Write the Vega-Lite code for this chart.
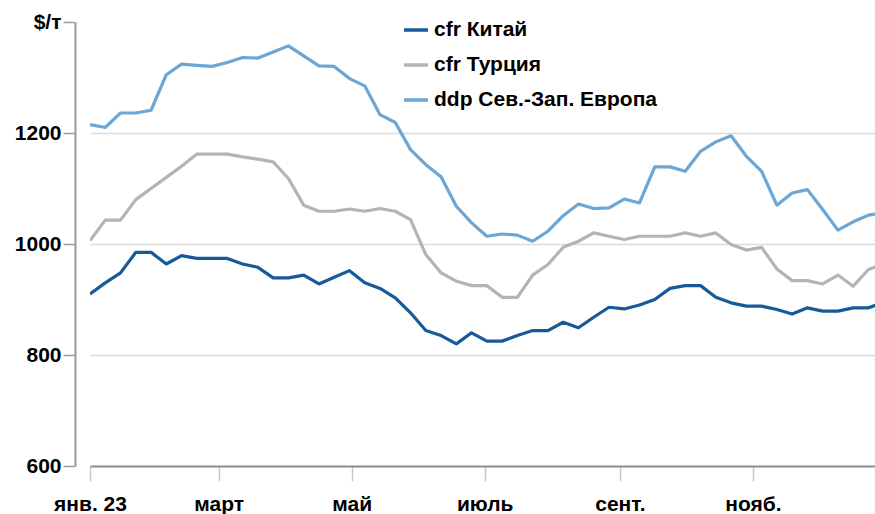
{
  "$schema": "https://vega.github.io/schema/vega-lite/v6.json",
  "width": 785,
  "height": 444,
  "autosize": {"type": "none"},
  "padding": {"left": 90, "top": 22, "right": 0, "bottom": 48},
  "background": "white",
  "config": {"font": "Liberation Sans", "view": {"stroke": null}},
  "data": {"values": [
    {"date":"2023-01-01","series":"cfr Китай","price":910},{"date":"2023-01-01","series":"cfr Турция","price":1006},{"date":"2023-01-01","series":"ddp Сев.-Зап. Европа","price":1215},
    {"date":"2023-01-08","series":"cfr Китай","price":930},{"date":"2023-01-08","series":"cfr Турция","price":1043},{"date":"2023-01-08","series":"ddp Сев.-Зап. Европа","price":1210},
    {"date":"2023-01-15","series":"cfr Китай","price":948},{"date":"2023-01-15","series":"cfr Турция","price":1043},{"date":"2023-01-15","series":"ddp Сев.-Зап. Европа","price":1236},
    {"date":"2023-01-22","series":"cfr Китай","price":985},{"date":"2023-01-22","series":"cfr Турция","price":1080},{"date":"2023-01-22","series":"ddp Сев.-Зап. Европа","price":1236},
    {"date":"2023-01-29","series":"cfr Китай","price":985},{"date":"2023-01-29","series":"cfr Турция","price":1100},{"date":"2023-01-29","series":"ddp Сев.-Зап. Европа","price":1241},
    {"date":"2023-02-05","series":"cfr Китай","price":964},{"date":"2023-02-05","series":"cfr Турция","price":1120},{"date":"2023-02-05","series":"ddp Сев.-Зап. Европа","price":1305},
    {"date":"2023-02-12","series":"cfr Китай","price":979},{"date":"2023-02-12","series":"cfr Турция","price":1140},{"date":"2023-02-12","series":"ddp Сев.-Зап. Европа","price":1324},
    {"date":"2023-02-19","series":"cfr Китай","price":974},{"date":"2023-02-19","series":"cfr Турция","price":1162},{"date":"2023-02-19","series":"ddp Сев.-Зап. Европа","price":1322},
    {"date":"2023-02-26","series":"cfr Китай","price":974},{"date":"2023-02-26","series":"cfr Турция","price":1162},{"date":"2023-02-26","series":"ddp Сев.-Зап. Европа","price":1320},
    {"date":"2023-03-05","series":"cfr Китай","price":974},{"date":"2023-03-05","series":"cfr Турция","price":1162},{"date":"2023-03-05","series":"ddp Сев.-Зап. Европа","price":1327},
    {"date":"2023-03-12","series":"cfr Китай","price":964},{"date":"2023-03-12","series":"cfr Турция","price":1157},{"date":"2023-03-12","series":"ddp Сев.-Зап. Европа","price":1336},
    {"date":"2023-03-19","series":"cfr Китай","price":958},{"date":"2023-03-19","series":"cfr Турция","price":1153},{"date":"2023-03-19","series":"ddp Сев.-Зап. Европа","price":1335},
    {"date":"2023-03-26","series":"cfr Китай","price":939},{"date":"2023-03-26","series":"cfr Турция","price":1148},{"date":"2023-03-26","series":"ddp Сев.-Зап. Европа","price":1346},
    {"date":"2023-04-02","series":"cfr Китай","price":939},{"date":"2023-04-02","series":"cfr Турция","price":1118},{"date":"2023-04-02","series":"ddp Сев.-Зап. Европа","price":1357},
    {"date":"2023-04-09","series":"cfr Китай","price":944},{"date":"2023-04-09","series":"cfr Турция","price":1070},{"date":"2023-04-09","series":"ddp Сев.-Зап. Европа","price":1339},
    {"date":"2023-04-16","series":"cfr Китай","price":928},{"date":"2023-04-16","series":"cfr Турция","price":1059},{"date":"2023-04-16","series":"ddp Сев.-Зап. Европа","price":1321},
    {"date":"2023-04-23","series":"cfr Китай","price":940},{"date":"2023-04-23","series":"cfr Турция","price":1059},{"date":"2023-04-23","series":"ddp Сев.-Зап. Европа","price":1320},
    {"date":"2023-04-30","series":"cfr Китай","price":952},{"date":"2023-04-30","series":"cfr Турция","price":1063},{"date":"2023-04-30","series":"ddp Сев.-Зап. Европа","price":1298},
    {"date":"2023-05-07","series":"cfr Китай","price":930},{"date":"2023-05-07","series":"cfr Турция","price":1059},{"date":"2023-05-07","series":"ddp Сев.-Зап. Европа","price":1285},
    {"date":"2023-05-14","series":"cfr Китай","price":920},{"date":"2023-05-14","series":"cfr Турция","price":1064},{"date":"2023-05-14","series":"ddp Сев.-Зап. Европа","price":1233},
    {"date":"2023-05-21","series":"cfr Китай","price":903},{"date":"2023-05-21","series":"cfr Турция","price":1059},{"date":"2023-05-21","series":"ddp Сев.-Зап. Европа","price":1219},
    {"date":"2023-05-28","series":"cfr Китай","price":876},{"date":"2023-05-28","series":"cfr Турция","price":1044},{"date":"2023-05-28","series":"ddp Сев.-Зап. Европа","price":1170},
    {"date":"2023-06-04","series":"cfr Китай","price":844},{"date":"2023-06-04","series":"cfr Турция","price":981},{"date":"2023-06-04","series":"ddp Сев.-Зап. Европа","price":1143},
    {"date":"2023-06-11","series":"cfr Китай","price":835},{"date":"2023-06-11","series":"cfr Турция","price":948},{"date":"2023-06-11","series":"ddp Сев.-Зап. Европа","price":1121},
    {"date":"2023-06-18","series":"cfr Китай","price":820},{"date":"2023-06-18","series":"cfr Турция","price":933},{"date":"2023-06-18","series":"ddp Сев.-Зап. Европа","price":1068},
    {"date":"2023-06-25","series":"cfr Китай","price":840},{"date":"2023-06-25","series":"cfr Турция","price":925},{"date":"2023-06-25","series":"ddp Сев.-Зап. Европа","price":1038},
    {"date":"2023-07-02","series":"cfr Китай","price":825},{"date":"2023-07-02","series":"cfr Турция","price":925},{"date":"2023-07-02","series":"ddp Сев.-Зап. Европа","price":1014},
    {"date":"2023-07-09","series":"cfr Китай","price":825},{"date":"2023-07-09","series":"cfr Турция","price":904},{"date":"2023-07-09","series":"ddp Сев.-Зап. Европа","price":1018},
    {"date":"2023-07-16","series":"cfr Китай","price":835},{"date":"2023-07-16","series":"cfr Турция","price":904},{"date":"2023-07-16","series":"ddp Сев.-Зап. Европа","price":1016},
    {"date":"2023-07-23","series":"cfr Китай","price":844},{"date":"2023-07-23","series":"cfr Турция","price":944},{"date":"2023-07-23","series":"ddp Сев.-Зап. Европа","price":1005},
    {"date":"2023-07-30","series":"cfr Китай","price":844},{"date":"2023-07-30","series":"cfr Турция","price":963},{"date":"2023-07-30","series":"ddp Сев.-Зап. Европа","price":1023},
    {"date":"2023-08-06","series":"cfr Китай","price":859},{"date":"2023-08-06","series":"cfr Турция","price":994},{"date":"2023-08-06","series":"ddp Сев.-Зап. Европа","price":1051},
    {"date":"2023-08-13","series":"cfr Китай","price":849},{"date":"2023-08-13","series":"cfr Турция","price":1005},{"date":"2023-08-13","series":"ddp Сев.-Зап. Европа","price":1072},
    {"date":"2023-08-20","series":"cfr Китай","price":868},{"date":"2023-08-20","series":"cfr Турция","price":1020},{"date":"2023-08-20","series":"ddp Сев.-Зап. Европа","price":1064},
    {"date":"2023-08-27","series":"cfr Китай","price":886},{"date":"2023-08-27","series":"cfr Турция","price":1014},{"date":"2023-08-27","series":"ddp Сев.-Зап. Европа","price":1065},
    {"date":"2023-09-03","series":"cfr Китай","price":883},{"date":"2023-09-03","series":"cfr Турция","price":1008},{"date":"2023-09-03","series":"ddp Сев.-Зап. Европа","price":1081},
    {"date":"2023-09-10","series":"cfr Китай","price":890},{"date":"2023-09-10","series":"cfr Турция","price":1014},{"date":"2023-09-10","series":"ddp Сев.-Зап. Европа","price":1074},
    {"date":"2023-09-17","series":"cfr Китай","price":900},{"date":"2023-09-17","series":"cfr Турция","price":1014},{"date":"2023-09-17","series":"ddp Сев.-Зап. Европа","price":1139},
    {"date":"2023-09-24","series":"cfr Китай","price":920},{"date":"2023-09-24","series":"cfr Турция","price":1014},{"date":"2023-09-24","series":"ddp Сев.-Зап. Европа","price":1139},
    {"date":"2023-10-01","series":"cfr Китай","price":925},{"date":"2023-10-01","series":"cfr Турция","price":1020},{"date":"2023-10-01","series":"ddp Сев.-Зап. Европа","price":1131},
    {"date":"2023-10-08","series":"cfr Китай","price":925},{"date":"2023-10-08","series":"cfr Турция","price":1014},{"date":"2023-10-08","series":"ddp Сев.-Зап. Европа","price":1167},
    {"date":"2023-10-15","series":"cfr Китай","price":904},{"date":"2023-10-15","series":"cfr Турция","price":1020},{"date":"2023-10-15","series":"ddp Сев.-Зап. Европа","price":1184},
    {"date":"2023-10-22","series":"cfr Китай","price":894},{"date":"2023-10-22","series":"cfr Турция","price":999},{"date":"2023-10-22","series":"ddp Сев.-Зап. Европа","price":1195},
    {"date":"2023-10-29","series":"cfr Китай","price":888},{"date":"2023-10-29","series":"cfr Турция","price":989},{"date":"2023-10-29","series":"ddp Сев.-Зап. Европа","price":1158},
    {"date":"2023-11-05","series":"cfr Китай","price":888},{"date":"2023-11-05","series":"cfr Турция","price":994},{"date":"2023-11-05","series":"ddp Сев.-Зап. Европа","price":1131},
    {"date":"2023-11-12","series":"cfr Китай","price":882},{"date":"2023-11-12","series":"cfr Турция","price":955},{"date":"2023-11-12","series":"ddp Сев.-Зап. Европа","price":1070},
    {"date":"2023-11-19","series":"cfr Китай","price":874},{"date":"2023-11-19","series":"cfr Турция","price":934},{"date":"2023-11-19","series":"ddp Сев.-Зап. Европа","price":1092},
    {"date":"2023-11-26","series":"cfr Китай","price":885},{"date":"2023-11-26","series":"cfr Турция","price":934},{"date":"2023-11-26","series":"ddp Сев.-Зап. Европа","price":1098},
    {"date":"2023-12-03","series":"cfr Китай","price":879},{"date":"2023-12-03","series":"cfr Турция","price":928},{"date":"2023-12-03","series":"ddp Сев.-Зап. Европа","price":1062},
    {"date":"2023-12-10","series":"cfr Китай","price":879},{"date":"2023-12-10","series":"cfr Турция","price":944},{"date":"2023-12-10","series":"ddp Сев.-Зап. Европа","price":1025},
    {"date":"2023-12-17","series":"cfr Китай","price":885},{"date":"2023-12-17","series":"cfr Турция","price":924},{"date":"2023-12-17","series":"ddp Сев.-Зап. Европа","price":1040},
    {"date":"2023-12-24","series":"cfr Китай","price":885},{"date":"2023-12-24","series":"cfr Турция","price":954},{"date":"2023-12-24","series":"ddp Сев.-Зап. Европа","price":1052},
    {"date":"2023-12-31","series":"cfr Китай","price":895},{"date":"2023-12-31","series":"cfr Турция","price":965},{"date":"2023-12-31","series":"ddp Сев.-Зап. Европа","price":1056}
  ]},
  "mark": {"type": "line", "strokeWidth": 3.2, "clip": true, "strokeJoin": "round"},
  "encoding": {
    "x": {
      "field": "date", "type": "temporal",
      "scale": {"type": "utc", "domain": ["2023-01-01", "2023-12-27"]},
      "axis": {
        "title": null,
        "values": [
          {"year": 2023, "month": 1, "date": 1, "utc": true},
          {"year": 2023, "month": 3, "date": 1, "utc": true},
          {"year": 2023, "month": 5, "date": 1, "utc": true},
          {"year": 2023, "month": 7, "date": 1, "utc": true},
          {"year": 2023, "month": 9, "date": 1, "utc": true},
          {"year": 2023, "month": 11, "date": 1, "utc": true}
        ],
        "labelExpr": "['янв. 23','','март','','май','','июль','','сент.','','нояб.',''][utcmonth(datum.value)]",
        "grid": false,
        "domainColor": "#8c8c8c", "domainWidth": 2,
        "tickColor": "#c8c8c8", "tickWidth": 1.5, "tickSize": 15,
        "labelFontSize": 21, "labelFontWeight": "bold", "labelColor": "#000000",
        "labelPadding": 12, "labelBaseline": "top", "labelFlush": false, "labelOverlap": false
      }
    },
    "y": {
      "field": "price", "type": "quantitative",
      "scale": {"domain": [600, 1400], "nice": false, "zero": false},
      "axis": {
        "title": null,
        "offset": 15,
        "values": [600, 800, 1000, 1200, 1400],
        "format": "d",
        "labelExpr": "datum.value == 1400 ? '$/т' : datum.label",
        "grid": true,
        "gridColor": "#dcdcdc", "gridWidth": 1.5,
        "gridOpacity": {"condition": {"test": "datum.value == 600 || datum.value == 1400", "value": 0}, "value": 1},
        "domainColor": "#9a9a9a", "domainWidth": 2,
        "tickColor": "#9a9a9a", "tickWidth": 1.5, "tickSize": 12,
        "labelFontSize": 21, "labelFontWeight": "bold", "labelColor": "#000000",
        "labelPadding": 2, "labelFlush": false, "labelOverlap": false
      }
    },
    "color": {
      "field": "series", "type": "nominal",
      "scale": {
        "domain": ["cfr Китай", "cfr Турция", "ddp Сев.-Зап. Европа"],
        "range": ["#165a9a", "#b4b4b4", "#6aa6d6"]
      },
      "legend": {
        "title": null, "orient": "none", "legendX": 312, "legendY": -6,
        "symbolType": "stroke", "symbolSize": 576, "symbolStrokeWidth": 3.5,
        "labelFontSize": 21, "labelFontWeight": "bold", "labelColor": "#000000",
        "labelOffset": 4, "rowPadding": 11, "padding": 0, "labelLimit": 400
      }
    }
  }
}
